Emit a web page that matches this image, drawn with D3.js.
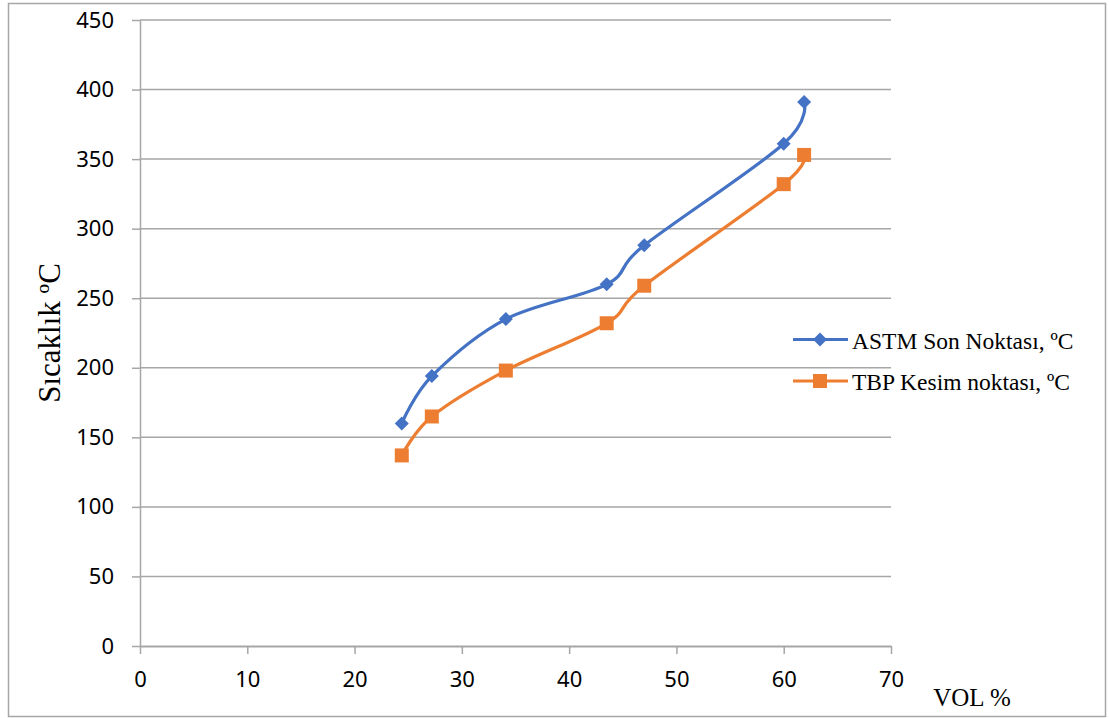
<!DOCTYPE html>
<html>
<head>
<meta charset="utf-8">
<script src="https://cdn.jsdelivr.net/npm/d3@7"></script>
<style>
  html, body { margin: 0; padding: 0; background: #fff; }
  svg { display: block; }
</style>
</head>
<body>
<svg id="chart" width="1109" height="718"></svg>
<script>
// Distillation data: volume percent vs temperature
const volPercent = [24.4, 27.2, 34.1, 43.5, 47.0, 60.0, 61.9];
const astmEndPoint = [160, 194, 235, 260, 288, 361, 391];
const tbpCutPoint = [137, 165, 198, 232, 259, 332, 353];
const seriesNames = ["ASTM Son Noktası, ºC", "TBP Kesim noktası, ºC"];
const xTicks = [0, 10, 20, 30, 40, 50, 60, 70];
const yTicks = [0, 50, 100, 150, 200, 250, 300, 350, 400, 450];

const svg = d3.select("#chart");
const plot = { left: 140, right: 891, top: 20, bottom: 646 };

// Outer frame
svg.append("rect")
  .attr("x", 8.5).attr("y", 3.5)
  .attr("width", 1097).attr("height", 713)
  .attr("fill", "#fff").attr("stroke", "#a6a6a6").attr("stroke-width", 1.5);

const x = d3.scaleLinear().domain([0, 70]).range([plot.left, plot.right]);
const y = d3.scaleLinear().domain([0, 450]).range([plot.bottom, plot.top]);

const gridColor = "#a6a6a6";
const tickFont = "'Noto Sans', 'Open Sans', sans-serif";
const serif = "'Liberation Serif', 'DejaVu Serif', serif";

// Horizontal gridlines
svg.append("g").selectAll("line").data(yTicks.filter(d => d > 0)).join("line")
  .attr("x1", plot.left).attr("x2", plot.right)
  .attr("y1", d => y(d)).attr("y2", d => y(d))
  .attr("stroke", gridColor).attr("stroke-width", 1.5);

// Y axis
const yAxis = svg.append("g")
  .attr("transform", `translate(${plot.left},0)`)
  .call(d3.axisLeft(y).tickValues(yTicks).tickSize(8).tickPadding(18).tickSizeOuter(0));
yAxis.select(".domain").attr("stroke", gridColor).attr("stroke-width", 1.5);
yAxis.selectAll(".tick line").attr("stroke", gridColor).attr("stroke-width", 1.5);
yAxis.selectAll(".tick text")
  .attr("font-family", tickFont).attr("font-size", 22).attr("fill", "#000");

// X axis
const xAxis = svg.append("g")
  .attr("transform", `translate(0,${plot.bottom})`)
  .call(d3.axisBottom(x).tickValues(xTicks).tickSize(8).tickPadding(17).tickSizeOuter(0));
xAxis.select(".domain").attr("stroke", gridColor).attr("stroke-width", 2);
xAxis.selectAll(".tick line").attr("stroke", gridColor).attr("stroke-width", 1.5);
xAxis.selectAll(".tick text")
  .attr("font-family", tickFont).attr("font-size", 22).attr("fill", "#000");

// Axis titles
svg.append("text")
  .attr("transform", "translate(60,333) rotate(-90)")
  .attr("text-anchor", "middle")
  .attr("font-family", serif).attr("font-size", 31).attr("fill", "#000")
  .text("Sıcaklık ºC");

svg.append("text")
  .attr("x", 972).attr("y", 706)
  .attr("text-anchor", "middle")
  .attr("font-family", serif).attr("font-size", 25).attr("fill", "#000")
  .text("VOL %");

const series = [
  { name: seriesNames[0], values: astmEndPoint, color: "#4472c4", marker: "diamond" },
  { name: seriesNames[1], values: tbpCutPoint, color: "#ed7d31", marker: "square" }
];

const line = d3.line().curve(d3.curveCardinal.tension(0))
  .x(d => x(d[0])).y(d => y(d[1]));

const diamond = s => `M0,${-s}L${s},0L0,${s}L${-s},0Z`;
const square = s => `M${-s},${-s}H${s}V${s}H${-s}Z`;
const markerPath = m => m === "diamond" ? diamond(7) : square(7);

series.forEach(s => {
  const pts = volPercent.map((v, i) => [v, s.values[i]]);
  svg.append("path")
    .attr("d", line(pts))
    .attr("fill", "none").attr("stroke", s.color)
    .attr("stroke-width", 3.2).attr("stroke-linejoin", "round");
  svg.append("g").selectAll("path").data(pts).join("path")
    .attr("transform", d => `translate(${x(d[0])},${y(d[1])})`)
    .attr("d", markerPath(s.marker))
    .attr("fill", s.color);
});

// Legend
const legend = svg.append("g").attr("transform", "translate(793,339.5)");
series.forEach((s, i) => {
  const g = legend.append("g").attr("transform", `translate(0,${i * 41.5})`);
  g.append("line").attr("x1", 0).attr("x2", 55).attr("y1", 0).attr("y2", 0)
    .attr("stroke", s.color).attr("stroke-width", 3.2);
  g.append("path").attr("transform", "translate(27,0)")
    .attr("d", markerPath(s.marker)).attr("fill", s.color);
  g.append("text").attr("x", 59).attr("y", 9)
    .attr("font-family", serif).attr("font-size", 23.5).attr("fill", "#000")
    .text(s.name);
});
</script>
</body>
</html>
